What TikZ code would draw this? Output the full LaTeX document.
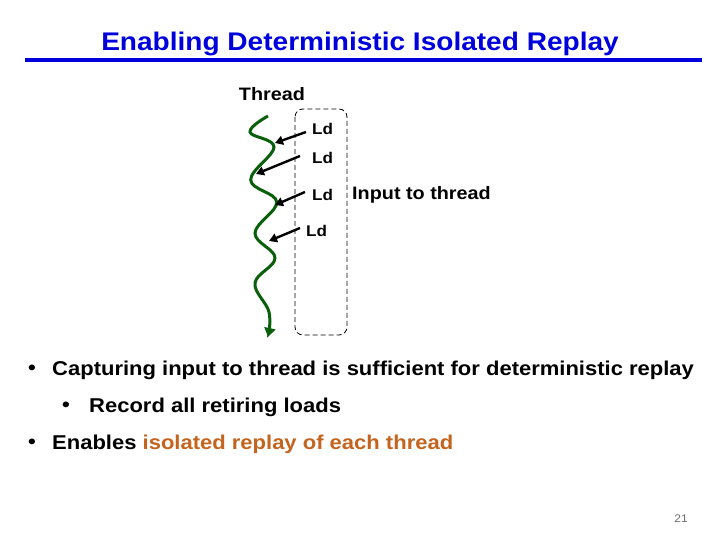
\documentclass[tikz,border=0pt]{standalone}
\usepackage{fontspec}
\setmainfont{Liberation Sans}[FakeStretch=1.1]
\usetikzlibrary{arrows.meta}
\definecolor{titleblue}{RGB}{0,0,220}
\definecolor{wavegreen}{RGB}{10,95,10}
\definecolor{hlorange}{RGB}{196,100,30}
\definecolor{pagegray}{RGB}{110,110,110}
\tikzset{
  titletext/.style={font=\fontsize{25.5}{30}\selectfont\bfseries, text=titleblue, inner sep=0pt},
  ldtext/.style={font=\fontsize{15.5}{19}\selectfont\bfseries, inner sep=0pt, anchor=west},
  bodytext/.style={font=\fontsize{20}{24}\selectfont\bfseries, inner sep=0pt, anchor=west},
  ldarrow/.style={black, line width=2.4pt, -{Triangle[length=8pt,width=9pt]}},
}
\begin{document}
\begin{tikzpicture}[x=1pt,y=-1pt]
\useasboundingbox (0,0) rectangle (720,540);
% title
\node[titletext] (title) at (360,44) {Enabling Deterministic Isolated Replay};
\draw[titleblue, line width=4pt] (25,60) -- (702,60);
% thread label
\node[font=\fontsize{18}{21}\selectfont\bfseries, inner sep=0pt] (thread) at (272,94) {Thread};
% dashed box
\draw[dash pattern=on 5pt off 3pt, rounded corners=8pt, line width=0.8pt] (295,109) rectangle (347,335);
% wave
\draw[wavegreen, line width=3pt, -{Triangle[length=9pt,width=11pt]}]
  plot[smooth, tension=0.65] coordinates {(268,116) (250,132) (274,147) (250.7,180) (276.7,202) (255,233) (275,258) (255,283) (269,312) (268,337)};
% Ld labels
\node[ldtext] (ld1) at (312,129) {Ld};
\node[ldtext] (ld2) at (312,158) {Ld};
\node[ldtext] (ld3) at (312,195) {Ld};
\node[ldtext] (ld4) at (306,231) {Ld};
\node[bodytext, font=\fontsize{18}{21}\selectfont\bfseries] (input) at (352,195) {Input to thread};
% arrows
\coordinate (s1) at (306,132);
\coordinate (s2) at (300,156);
\coordinate (s3) at (305,192);
\coordinate (s4) at (300,228);
\coordinate (t1) at (275,143);
\coordinate (t2) at (256,174);
\coordinate (t3) at (275,205);
\coordinate (t4) at (269,241);
\draw[ldarrow] (s1) -- (t1);
\draw[ldarrow] (s2) -- (t2);
\draw[ldarrow] (s3) -- (t3);
\draw[ldarrow] (s4) -- (t4);
% bullets
\node[bodytext] (b1d) at (28,370) {•};
\node[bodytext] (b1) at (52,370) {Capturing input to thread is sufficient for deterministic replay};
\node[bodytext] (b2d) at (62,407) {•};
\node[bodytext] (b2) at (89,407) {Record all retiring loads};
\node[bodytext] (b3d) at (28,444) {•};
\node[bodytext] (b3) at (52,444) {Enables \textcolor{hlorange}{isolated replay of each thread}};
% page number
\node[font=\fontsize{11}{13}\selectfont, text=pagegray, inner sep=0pt] (pg) at (681,519) {21};
\end{tikzpicture}
\end{document}
